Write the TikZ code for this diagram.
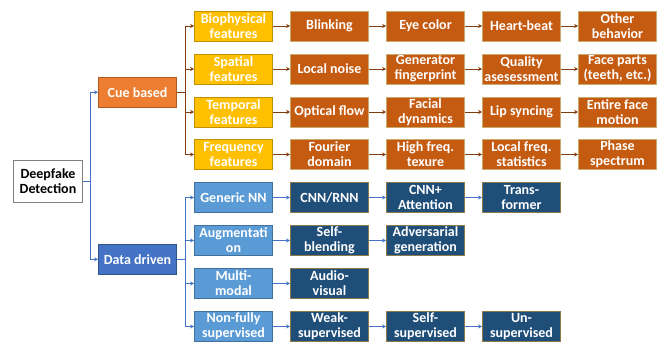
\documentclass[tikz,border=0pt]{standalone}
\usepackage{fontspec}
\setmainfont{Carlito}
\usetikzlibrary{arrows.meta}
\definecolor{cCue}{RGB}{237,125,49}
\definecolor{cCueLine}{RGB}{174,90,33}
\definecolor{cFeat}{RGB}{255,192,0}
\definecolor{cFeatLine}{RGB}{191,144,0}
\definecolor{cBrown}{RGB}{197,90,17}
\definecolor{cTan}{RGB}{201,169,110}
\definecolor{cData}{RGB}{68,114,196}
\definecolor{cDataLine}{RGB}{47,82,143}
\definecolor{cSky}{RGB}{91,155,213}
\definecolor{cSkyLine}{RGB}{65,113,156}
\definecolor{cNavy}{RGB}{31,78,121}
\definecolor{cGold}{RGB}{140,122,75}
\definecolor{cLinkCue}{RGB}{132,60,12}
\definecolor{cLinkData}{RGB}{68,114,196}

\begin{document}
\begin{tikzpicture}[x=1pt, y=-1pt,
    every node/.style={font=\bfseries\fontsize{14}{15}\selectfont, text=white, align=center,
      minimum width=78pt, minimum height=30pt, inner sep=1pt, line width=0.8pt},
    rootbox/.style={draw=gray, fill=white, text=black, minimum width=69pt, minimum height=41.5pt},
    cuebox/.style={draw=cCueLine, fill=cCue},
    featbox/.style={draw=cFeatLine, fill=cFeat},
    cuestepbox/.style={draw=cTan, fill=cBrown},
    databox/.style={draw=cDataLine, fill=cData},
    nnbox/.style={draw=cSkyLine, fill=cSky},
    datastepbox/.style={draw=cGold, fill=cNavy},
    cuelink/.style={draw=cLinkCue, line width=1pt, -{Stealth[length=4pt, width=4pt]}},
    datalink/.style={draw=cLinkData, line width=1pt, -{Stealth[length=4pt, width=4pt]}}]
    \useasboundingbox (0,0) rectangle (659,341);
    % root and the two branches
    \node[rootbox] (root) at (48,181.5) {Deepfake\\Detection};
    \node[cuebox] (cue) at (137.5,92.3) {Cue based};
    \node[databox] (data) at (137.5,259.3) {Data driven};
    \draw[datalink] (root.east) -- ++(7.3,0) |- (cue);
    \draw[datalink] (root.east) -- ++(7.3,0) |- (data);

    % cue based rows
    \node[featbox] (bio) at (233.5,26) {Biophysical\\features};
    \node[featbox] (spat) at (233.5,69) {Spatial\\features};
    \node[featbox] (temp) at (233.5,112) {Temporal\\features};
    \node[featbox] (freq) at (233.5,154.5) {Frequency\\features};
    \foreach \n in {bio, spat, temp, freq}
      \draw[cuelink] (cue.east) -- ++(8.3,0) |- (\n);

    \node[cuestepbox] (bio1) at (329.5,26) {Blinking};
    \node[cuestepbox] (bio2) at (425.5,26) {Eye color};
    \node[cuestepbox] (bio3) at (521.5,26) {Heart-beat};
    \node[cuestepbox] (bio4) at (617.5,26) {Other\\behavior};
    \node[cuestepbox] (spat1) at (329.5,69) {Local noise};
    \node[cuestepbox] (spat2) at (425.5,69) {Generator\\fingerprint};
    \node[cuestepbox] (spat3) at (521.5,69) {Quality\\asesessment};
    \node[cuestepbox] (spat4) at (617.5,69) {Face parts\\(teeth, etc.)};
    \node[cuestepbox] (temp1) at (329.5,112) {Optical flow};
    \node[cuestepbox] (temp2) at (425.5,112) {Facial\\dynamics};
    \node[cuestepbox] (temp3) at (521.5,112) {Lip syncing};
    \node[cuestepbox] (temp4) at (617.5,112) {Entire face\\motion};
    \node[cuestepbox] (freq1) at (329.5,154.5) {Fourier\\domain};
    \node[cuestepbox] (freq2) at (425.5,154.5) {High freq.\\texure};
    \node[cuestepbox] (freq3) at (521.5,154.5) {Local freq.\\statistics};
    \node[cuestepbox] (freq4) at (617.5,154.5) {Phase\\spectrum};
    \foreach \n in {bio, spat, temp, freq} {
      \draw[cuelink] (\n) -- (\n1);
      \draw[cuelink] (\n1) -- (\n2);
      \draw[cuelink] (\n2) -- (\n3);
      \draw[cuelink] (\n3) -- (\n4);
    }

    % data driven rows
    \node[nnbox] (gen) at (233.5,197.5) {Generic NN};
    \node[nnbox] (aug) at (233.5,240.5) {Augmentati\\on};
    \node[nnbox] (multi) at (233.5,283.5) {Multi-\\modal};
    \node[nnbox] (sup) at (233.5,326.5) {Non-fully\\supervised};
    \foreach \n in {gen, aug, multi, sup}
      \draw[datalink] (data.east) -- ++(8.3,0) |- (\n);

    \node[datastepbox] (gen1) at (329.5,197.5) {CNN/RNN};
    \node[datastepbox] (gen2) at (425.5,197.5) {CNN+\\Attention};
    \node[datastepbox] (gen3) at (521.5,197.5) {Trans-\\former};
    \node[datastepbox] (aug1) at (329.5,240.5) {Self-\\blending};
    \node[datastepbox] (aug2) at (425.5,240.5) {Adversarial\\generation};
    \node[datastepbox] (multi1) at (329.5,283.5) {Audio-\\visual};
    \node[datastepbox] (sup1) at (329.5,326.5) {Weak-\\supervised};
    \node[datastepbox] (sup2) at (425.5,326.5) {Self-\\supervised};
    \node[datastepbox] (sup3) at (521.5,326.5) {Un-\\supervised};
    \draw[datalink] (gen) -- (gen1);
    \draw[datalink] (gen1) -- (gen2);
    \draw[datalink] (gen2) -- (gen3);
    \draw[datalink] (aug) -- (aug1);
    \draw[datalink] (aug1) -- (aug2);
    \draw[datalink] (multi) -- (multi1);
    \draw[datalink] (sup) -- (sup1);
    \draw[datalink] (sup1) -- (sup2);
    \draw[datalink] (sup2) -- (sup3);
\end{tikzpicture}
\end{document}
